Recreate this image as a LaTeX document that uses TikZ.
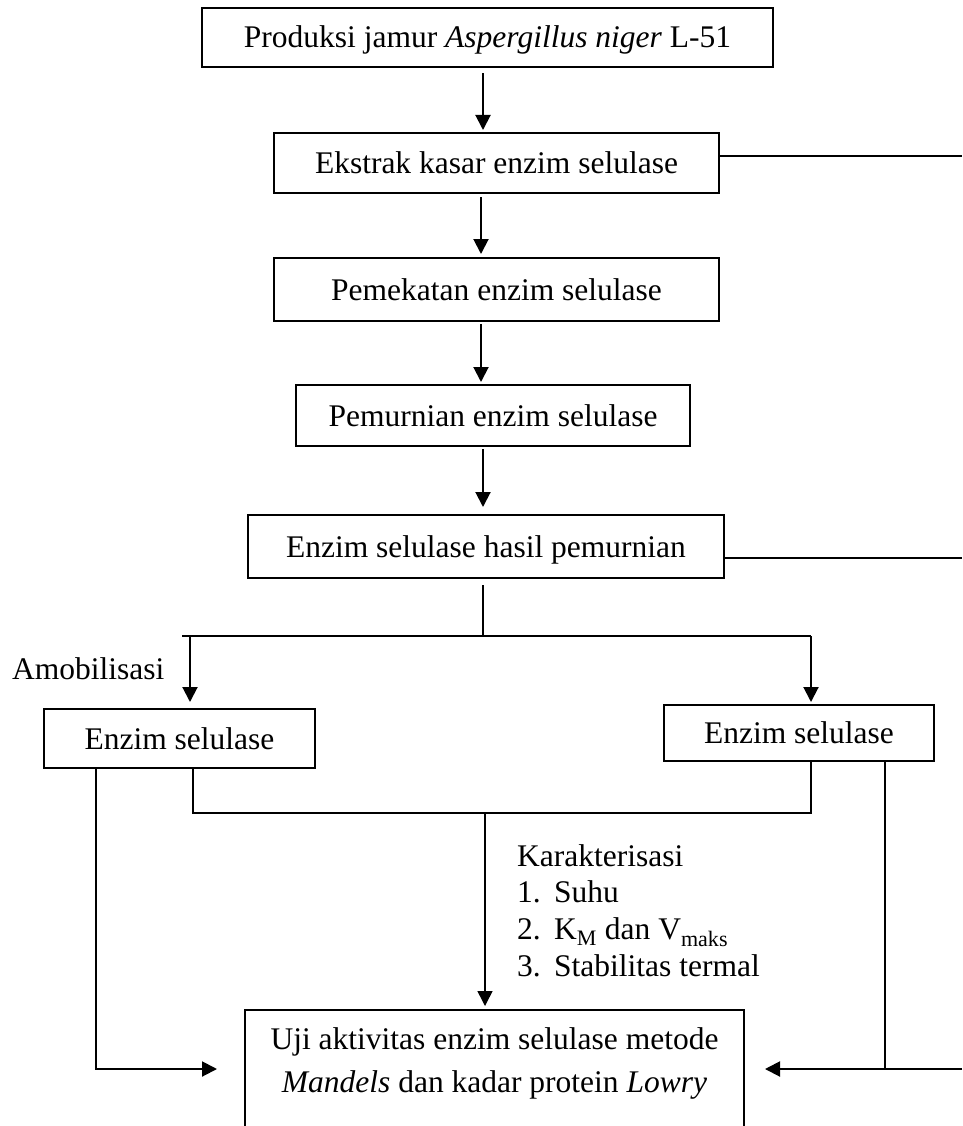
\documentclass[tikz,border=0pt]{standalone}
\usepackage{fontspec}
\setmainfont{Liberation Serif}
\usetikzlibrary{arrows.meta}
\begin{document}
\begin{tikzpicture}[x=1pt,y=-1pt,
  every node/.style={font=\fontsize{31.5}{37}\selectfont},
  box/.style={draw, line width=2pt, inner sep=0pt, text height=21pt, text depth=0pt},
  ln/.style={line width=2pt},
  thinln/.style={line width=1.3pt},
  arr/.style={ln, -{Triangle[length=15pt,width=15pt]}}
]
\useasboundingbox (0,0) rectangle (962,1126);
\clip (0,0) rectangle (962,1126);
% boxes
\node[box,minimum width=571pt,minimum height=59pt] (b1) at (487.5,37.5) {Produksi jamur \textit{Aspergillus niger} L-51};
\node[box,minimum width=445pt,minimum height=60pt] (b2) at (496.5,163) {Ekstrak kasar enzim selulase};
\node[box,minimum width=445pt,minimum height=63pt] (b3) at (496.5,289.5) {Pemekatan enzim selulase};
\node[box,minimum width=394pt,minimum height=61pt] (b4) at (493,415.5) {Pemurnian enzim selulase};
\node[box,minimum width=476pt,minimum height=63pt] (b5) at (486,546.5) {Enzim selulase hasil pemurnian};
\node[box,minimum width=271pt,minimum height=59pt] (b6) at (179.5,738.5) {Enzim selulase};
\node[box,minimum width=270pt,minimum height=56pt] (b7) at (799,733) {Enzim selulase};
\node[draw,line width=2pt,inner sep=0pt,minimum width=499pt,text height=82.5pt,text depth=120pt,align=center,anchor=north,font=\fontsize{31.5}{43.5}\selectfont] (b8) at (494.5,1009) {Uji aktivitas enzim selulase metode\\\textit{Mandels} dan kadar protein \textit{Lowry}};
% labels
\node[anchor=base west,inner sep=0pt] (amo) at (12,679) {Amobilisasi};
\node[anchor=north west,inner sep=0pt,align=left,font=\fontsize{31.5}{36.8}\selectfont] (kar) at (517,844) {Karakterisasi\\\makebox[37pt][l]{1.}Suhu\\\makebox[37pt][l]{2.}K\textsubscript{M} dan V\textsubscript{maks}\\\makebox[37pt][l]{3.}Stabilitas termal};
% main chain
\coordinate (xa) at (483,0);
\coordinate (xb) at (481,0);
\draw[arr,shorten <=5.5pt,shorten >=2pt] (b1.south -| xa) -- (b2.north -| xa);
\draw[arr,shorten <=3pt,shorten >=3pt] (b2.south -| xb) -- (b3.north -| xb);
\draw[arr,shorten <=2pt,shorten >=2pt] (b3.south -| xb) -- (b4.north -| xb);
\draw[arr,shorten <=2pt,shorten >=7pt] (b4.south -| xa) -- (b5.north -| xa);
% right-going lines
\coordinate (r1) at (962,156);
\coordinate (r2) at (962,558);
\draw[ln] (b2.east |- r1) -- (r1);
\draw[ln] (b5.east |- r2) -- (r2);
% branch
\coordinate (br) at (483,636);
\coordinate (bl) at (182,636);
\coordinate (brr) at (811,636);
\coordinate (bla) at (190,636);
\draw[thinln,shorten <=6pt] (b5.south -| br) -- (br);
\draw[ln] (bl) -- (brr);
\draw[arr,shorten >=6pt] (bla) -- (b6.north -| bla);
\draw[arr,shorten >=2pt] (brr) -- (b7.north -| brr);
% merge
\coordinate (m1) at (193,813);
\coordinate (m2) at (811,813);
\coordinate (mc) at (485,813);
\draw[ln] (b6.south -| m1) -- (m1) -- (m2) -- (b7.south -| m2);
\draw[arr,line width=1.5pt,shorten >=3pt] (mc) -- (b8.north -| mc);
% left path
\coordinate (lk) at (96,1069);
\draw[arr,shorten >=27pt] (b6.south -| lk) -- (lk) -- (lk -| b8.west);
% right path
\coordinate (rk) at (885,1069);
\coordinate (re) at (962,1069);
\draw[thinln] (b7.south -| rk) -- (rk);
\draw[arr,shorten >=20pt] (re) -- (rk -| b8.east);
\end{tikzpicture}
\end{document}
